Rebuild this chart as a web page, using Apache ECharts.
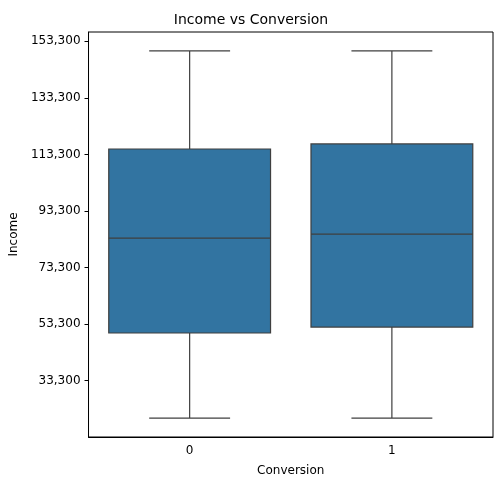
<!DOCTYPE html>
<html><head><meta charset="utf-8">
<script src="https://cdn.jsdelivr.net/npm/echarts@6/dist/echarts.min.js"></script>
<style>html,body{margin:0;padding:0;background:#fff}#c{width:502px;height:490px}</style>
</head><body><div id="c"></div>
<script>
const categories = ['0', '1'];
const lowWhisker = [20000, 20000];
const q1 = [50100, 52200];
const median = [83700, 85100];
const q3 = [115200, 117000];
const highWhisker = [149900, 149900];

const data = categories.map((c, i) => [i, lowWhisker[i], q1[i], median[i], q3[i], highWhisker[i]]);
const chart = echarts.init(document.getElementById('c'));
const font = 'DejaVu Sans';
chart.setOption({
  animation: false,
  title: {text: 'Income vs Conversion', left: 'center', top: 8, textStyle: {fontFamily: font, fontSize: 14, fontWeight: 'normal', color: '#000'}},
  grid: {left: 85, right: 9, top: 32, bottom: 53, show: true, borderColor: '#000', borderWidth: 1},
  xAxis: {type: 'category', data: categories, name: 'Conversion', nameLocation: 'middle', nameGap: 28,
    nameTextStyle: {fontFamily: font, fontSize: 12, color: '#000'},
    axisLine: {lineStyle: {color: '#000'}}, axisTick: {alignWithLabel: true, length: 4, lineStyle: {color: '#000'}},
    axisLabel: {fontFamily: font, fontSize: 12, color: '#000'}},
  yAxis: {type: 'value', min: 13300, max: 156600, interval: 20000, name: 'Income', nameLocation: 'middle', nameGap: 68,
    nameTextStyle: {fontFamily: font, fontSize: 12, color: '#000'},
    axisLine: {show: true, lineStyle: {color: '#000'}}, axisTick: {show: true, length: 4, lineStyle: {color: '#000'}},
    splitLine: {show: false},
    axisLabel: {fontFamily: font, fontSize: 12, color: '#000', showMinLabel: false, showMaxLabel: false}},
  series: [{
    type: 'custom', data: data,
    encode: {x: 0, y: [1, 2, 3, 4, 5]},
    renderItem: function (params, api) {
      const x = api.value(0);
      const band = api.size([1, 0])[0];
      const bw = band * 0.8, cw = bw / 2;
      const cx = api.coord([x, 0])[0];
      const y = k => api.coord([x, api.value(k)])[1];
      const ls = {stroke: '#3f3f3f', lineWidth: 1.2};
      return {type: 'group', children: [
        {type: 'line', shape: {x1: cx, y1: y(1), x2: cx, y2: y(2)}, style: ls},
        {type: 'line', shape: {x1: cx, y1: y(4), x2: cx, y2: y(5)}, style: ls},
        {type: 'line', shape: {x1: cx - cw / 2, y1: y(1), x2: cx + cw / 2, y2: y(1)}, style: ls},
        {type: 'line', shape: {x1: cx - cw / 2, y1: y(5), x2: cx + cw / 2, y2: y(5)}, style: ls},
        {type: 'rect', shape: {x: cx - bw / 2, y: y(4), width: bw, height: y(2) - y(4)}, style: {fill: '#3274a1', stroke: '#3f3f3f', lineWidth: 1.2}},
        {type: 'line', shape: {x1: cx - bw / 2, y1: y(3), x2: cx + bw / 2, y2: y(3)}, style: ls}
      ]};
    }
  }]
});
</script></body></html>
